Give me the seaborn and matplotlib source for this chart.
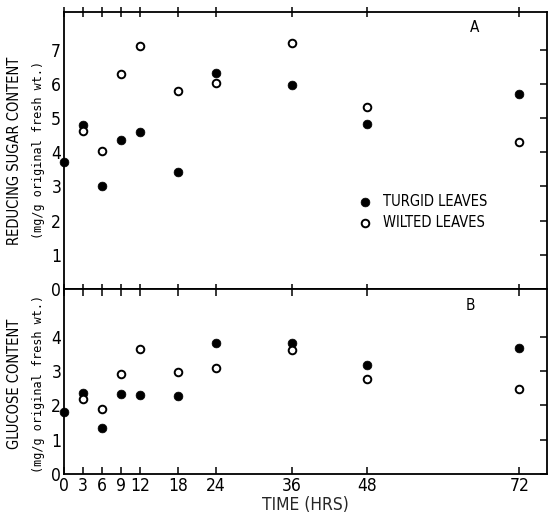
import matplotlib
matplotlib.use("Agg")
from matplotlib import pyplot as plt
import seaborn as sns
import pandas as pd

hours = [0, 3, 6, 9, 12, 18, 24, 36, 48, 72]
wilted_hours = [3, 6, 9, 12, 18, 24, 36, 48, 72]

# reducing sugar (mg/g original fresh wt.)
sugar_turgid = [3.7, 4.8, 3.0, 4.37, 4.6, 3.42, 6.31, 5.97, 4.82, 5.7]
sugar_wilted = [4.62, 4.03, 6.29, 7.1, 5.78, 6.02, 7.2, 5.31, 4.3]

# glucose (mg/g original fresh wt.)
glucose_turgid = [1.8, 2.36, 1.35, 2.34, 2.3, 2.27, 3.82, 3.82, 3.18, 3.68]
glucose_wilted = [2.18, 1.89, 2.91, 3.66, 2.97, 3.1, 3.63, 2.78, 2.48]

xticks = [0, 3, 6, 9, 12, 18, 24, 36, 48, 72]

sns.set_style("ticks")
plt.rcParams["font.family"] = ["DejaVu Sans"]
plt.rcParams["font.stretch"] = "condensed"
plt.rcParams["axes.linewidth"] = 1.3
plt.rcParams["text.color"] = "black"
plt.rcParams["xtick.color"] = "black"
plt.rcParams["ytick.color"] = "black"
plt.rcParams["axes.edgecolor"] = "black"

turgid = pd.DataFrame({"t": hours, "sugar": sugar_turgid, "glucose": glucose_turgid})
wilted = pd.DataFrame({"t": wilted_hours, "sugar": sugar_wilted, "glucose": glucose_wilted})

fig = plt.figure(figsize=(5.48, 5.15), dpi=100)
ax1 = fig.add_axes([0.1168, 0.4388, 0.8814, 0.5379])
ax2 = fig.add_axes([0.1168, 0.0796, 0.8814, 0.3592])

for ax, col, ymax in [(ax1, "sugar", 8.1), (ax2, "glucose", 5.4)]:
    sns.scatterplot(data=turgid, x="t", y=col, ax=ax, color="black", s=40,
                    edgecolor="black", linewidth=0.5, label="TURGID LEAVES", clip_on=False)
    sns.scatterplot(data=wilted, x="t", y=col, ax=ax, color="white", s=30,
                    edgecolor="black", linewidth=1.4, label="WILTED LEAVES", clip_on=False)
    ax.set_xlim(0, 76.4)
    ax.set_ylim(0, ymax)
    ax.set_xticks(xticks)
    ax.tick_params(axis="both", labelsize=12.5, width=1.1)
    ax.tick_params(axis="x", direction="in", top=True, length=5, pad=2)
    ax.tick_params(axis="y", left=False, right=True, direction="in", length=5, pad=2)
    ax.set_xlabel("")
    ax.set_ylabel("")

ax1.set_yticks(range(0, 8))
ax1.tick_params(axis="x", bottom=True, labelbottom=False, direction="inout", length=7)
ax2.set_yticks(range(0, 5))
ax2.set_xlabel("TIME (HRS)", fontsize=12.5, labelpad=1)

ax1.text(0.85, 0.945, "A", transform=ax1.transAxes, fontsize=11, ha="center", va="center")
ax2.text(0.842, 0.91, "B", transform=ax2.transAxes, fontsize=11, ha="center", va="center")

ax1.legend(loc="center left", bbox_to_anchor=(0.578, 0.278), frameon=False,
           fontsize=10.5, handletextpad=0.25, labelspacing=0.45, borderpad=0)
ax2.get_legend().remove()

fig.text(0.027, 0.708, "REDUCING SUGAR CONTENT", rotation=90, ha="center", va="center", fontsize=10.5)
fig.text(0.07, 0.708, "(mg/g original fresh wt.)", rotation=90, ha="center", va="center",
         fontsize=8.5, family="DejaVu Sans Mono")
fig.text(0.027, 0.255, "GLUCOSE CONTENT", rotation=90, ha="center", va="center", fontsize=10.5)
fig.text(0.07, 0.255, "(mg/g original fresh wt.)", rotation=90, ha="center", va="center",
         fontsize=8.5, family="DejaVu Sans Mono")

fig.savefig("out.png", dpi=100)
